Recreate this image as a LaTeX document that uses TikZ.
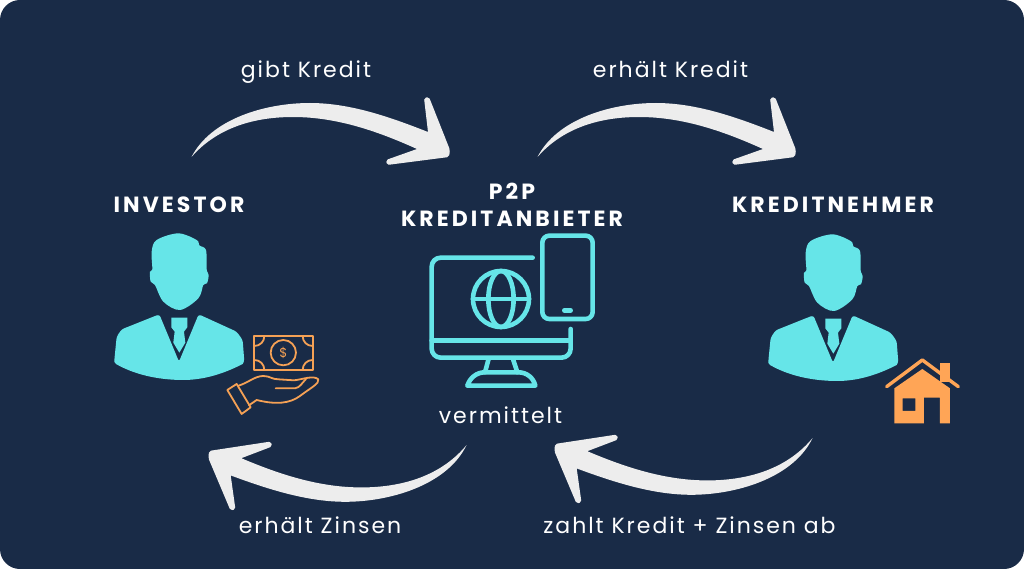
\documentclass[tikz,border=0pt]{standalone}
\usepackage{fontspec}
\setmainfont{Poppins}[LetterSpace=9]
\newfontfamily\boldlab{Poppins}[UprightFont=* Bold,LetterSpace=14]
\definecolor{bgblue}{HTML}{192B47}
\definecolor{cyanfig}{HTML}{66E5E8}
\definecolor{arrowwhite}{HTML}{EDEDED}
\definecolor{orangefig}{HTML}{F5A155}
\definecolor{orangefill}{HTML}{FFA556}
\tikzset{
  x=1pt,y=-1pt,
  label text/.style={text=white,font=\fontsize{22}{24}\selectfont,inner sep=0pt,anchor=base},
  head text/.style={text=white,font=\boldlab\fontsize{22}{27}\selectfont,inner sep=0pt,anchor=center,align=center},
  iconline/.style={draw=cyanfig,line width=4.6pt,line cap=round,line join=round},
  moneyline/.style={draw=orangefig,line width=1.8pt,line cap=round,line join=round},
}
\newcommand{\PersonShape}{%
  \fill[cyanfig] plot[smooth cycle,tension=0.55] coordinates {(235,40) (290,60) (298,76) (318,90) (320,148) (326,165) (321,190) (310,195) (295,235) (240,270) (190,245) (165,195) (152,185) (150,155) (157,148) (155,95) (170,60)};
  \fill[cyanfig] (43,425) [rounded corners=2.5pt] -- (43,420) -- (50,350) -- (65,328) -- (178,283) -- (237,425) -- (296,283) -- (410,335) -- (428,360) -- (433,425) [sharp corners] -- (428,432) .. controls (370,462) and (310,480) .. (250,480) .. controls (170,480) and (100,462) .. (48,432) -- cycle;
  \fill[cyanfig] (214,293) -- (262,293) -- (262,322) -- (252,335) -- (256,368) -- (238,398) -- (220,368) -- (224,335) -- (214,322) -- cycle;
}
\newcommand{\ArrowShape}{%
  \fill[arrowwhite] (191.5,157) .. controls (211,119) and (265,103) .. (310,103) .. controls (350,103) and (390,117) .. (428,132)
   [rounded corners=1.8pt] -- (424,98) -- (429,97) -- (450,150) -- (449,157) -- (387,165) -- (386,160) [sharp corners] -- (417,149)
   .. controls (375,130) and (335,117) .. (293,117) .. controls (250,117) and (215,130) .. (191.5,157) -- cycle;
}
\begin{document}
\begin{tikzpicture}
\useasboundingbox (0,0) rectangle (1024,569);
\fill[white] (0,0) rectangle (1024,569);
\fill[bgblue,rounded corners=20pt] (0,0) rectangle (1024,569);

% arrows
\ArrowShape
\begin{scope}[shift={(346,0)}]\ArrowShape\end{scope}
\begin{scope}[rotate around={1.3:(338,475)},shift={(658.7,605)},xscale=-1,yscale=-1]\ArrowShape\end{scope}
\begin{scope}[shift={(346,-7)},rotate around={1.3:(338,475)},shift={(658.7,605)},xscale=-1,yscale=-1]\ArrowShape\end{scope}

% persons
\begin{scope}[shift={(100,220)},scale=0.3333]\PersonShape\end{scope}
\begin{scope}[shift={(754,221)},scale=0.3333]\PersonShape\end{scope}

% money and hand
\begin{scope}[shift={(100,220)},scale=0.3333]
  \draw[moneyline] (463,348) rectangle (638,450);
  \draw[moneyline] (550,398) circle (38);
  \draw[moneyline] (463,378) .. controls (480,378) and (493,365) .. (493,348);
  \draw[moneyline] (608,348) .. controls (608,365) and (621,378) .. (638,378);
  \draw[moneyline] (463,420) .. controls (480,420) and (493,433) .. (493,450);
  \draw[moneyline] (608,450) .. controls (608,433) and (621,420) .. (638,420);
  \node[text=orangefig,inner sep=0pt,font=\fontsize{13}{13}\selectfont] (dollar) at (550,398) {\$};
  \draw[moneyline] (382,510) -- (410,492) -- (452,562) -- (425,582) -- cycle;
  \draw[moneyline] (416,497) .. controls (445,488) and (465,468) .. (490,468) .. controls (510,468) and (515,478) .. (535,478) -- (582,481) .. controls (610,478) and (640,465) .. (655,478) .. controls (660,490) and (630,505) .. (600,528) .. controls (570,550) and (530,555) .. (470,540) -- (447,556);
  \draw[moneyline] (527,505) -- (585,505) .. controls (600,503) and (605,490) .. (618,477);
\end{scope}

% monitor
\begin{scope}[shift={(420,225)},scale=0.3333]
  \draw[iconline,rounded corners=9pt] (338,98) -- (35,98) -- (35,398) -- (452,398) -- (452,312);
  \draw[iconline] (35,347) -- (452,347);
  \draw[iconline] (205,405) -- (195,442);
  \draw[iconline] (280,405) -- (292,442);
  \draw[iconline] (142,482) -- (346,482) .. controls (340,458) and (320,442) .. (295,442) -- (195,442) .. controls (170,442) and (150,458) .. (142,482) -- cycle;
  \draw[iconline] (243,222) circle (84);
  \draw[iconline] (243,222) ellipse (38 and 84);
  \draw[iconline] (159,222) -- (327,222);
  \draw[iconline,rounded corners=7pt] (367,32) rectangle (518,282);
  \draw[iconline] (433,256) -- (452,256);
\end{scope}

% house
\begin{scope}[shift={(760,225)},scale=0.3333]
  \fill[orangefill,even odd rule] (403,490) -- (487,432) -- (570,490) -- (570,595) -- (540,595) -- (540,518) -- (492,518) -- (492,595) -- (403,595) -- cycle (428,520) rectangle (466,558);
  \fill[orangefill] (541,415) rectangle (571,470);
  \draw[orangefill,line width=3.4pt,line cap=round,line join=round] (380,485) -- (487,405) -- (595,485);
\end{scope}

% labels
\node[head text] (investor) at (179,205) {INVESTOR};
\node[head text] (p2p) at (512,205) {P2P\\KREDITANBIETER};
\node[head text] (kreditnehmer) at (833,205) {KREDITNEHMER};
\node[label text] (gibt) at (306,78) {gibt Kredit};
\node[label text] (erhaelt) at (670.5,78) {erhält Kredit};
\node[label text] (vermittelt) at (500.5,423) {vermittelt};
\node[label text] (zinsen) at (320,533) {erhält Zinsen};
\node[label text] (zahlt) at (689.5,533) {zahlt Kredit + Zinsen ab};
\end{tikzpicture}
\end{document}
